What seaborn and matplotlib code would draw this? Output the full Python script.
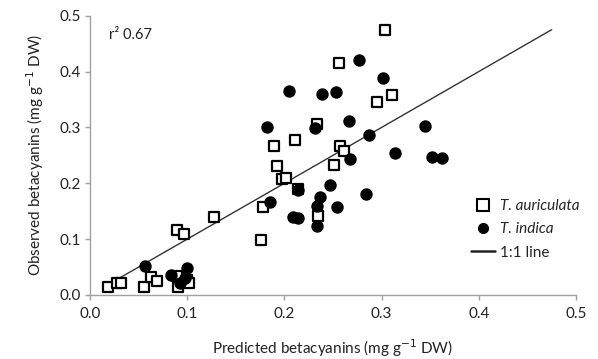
import matplotlib
matplotlib.use("Agg")
import matplotlib.pyplot as plt
import seaborn as sns
import pandas as pd
from matplotlib.lines import Line2D

# T. auriculata (open squares)
aur_pred = [0.019, 0.028, 0.032, 0.056, 0.063, 0.069, 0.089, 0.091, 0.100, 0.102,
            0.089, 0.097, 0.128, 0.176, 0.178, 0.189, 0.192, 0.198, 0.202, 0.211,
            0.214, 0.234, 0.235, 0.251, 0.256, 0.257, 0.261, 0.295, 0.304, 0.311]
aur_obs = [0.015, 0.021, 0.022, 0.015, 0.033, 0.025, 0.034, 0.015, 0.027, 0.022,
           0.116, 0.109, 0.139, 0.098, 0.157, 0.267, 0.231, 0.207, 0.210, 0.277,
           0.189, 0.307, 0.141, 0.233, 0.416, 0.267, 0.258, 0.345, 0.475, 0.358]

# T. indica (filled circles)
ind_pred = [0.057, 0.083, 0.093, 0.100, 0.098, 0.182, 0.185, 0.205, 0.209, 0.214,
            0.214, 0.231, 0.234, 0.234, 0.237, 0.239, 0.247, 0.253, 0.254, 0.266,
            0.267, 0.277, 0.284, 0.287, 0.301, 0.314, 0.345, 0.352, 0.362]
ind_obs = [0.052, 0.036, 0.021, 0.048, 0.030, 0.301, 0.167, 0.366, 0.140, 0.138,
           0.188, 0.299, 0.123, 0.159, 0.176, 0.360, 0.197, 0.364, 0.157, 0.311,
           0.244, 0.420, 0.180, 0.287, 0.389, 0.255, 0.303, 0.247, 0.246]

# 1:1 line
line_x = [0.013, 0.475]
line_y = [0.013, 0.475]

ticks = [0.0, 0.1, 0.2, 0.3, 0.4, 0.5]
tick_labels = ["0.0", "0.1", "0.2", "0.3", "0.4", "0.5"]

sns.set_style("white")
plt.rcParams['font.family'] = ['Lato', 'DejaVu Sans']

fig = plt.figure(figsize=(5.98, 3.59), dpi=100)
ax = fig.add_axes([90/598, 1 - 295/359, (576-90)/598, (295-15.7)/359])

df_a = pd.DataFrame({"x": aur_pred, "y": aur_obs})
df_i = pd.DataFrame({"x": ind_pred, "y": ind_obs})
df_l = pd.DataFrame({"x": line_x, "y": line_y})

sns.lineplot(data=df_l, x="x", y="y", ax=ax, color="#333333", linewidth=1.0, zorder=1)
sns.scatterplot(data=df_a, x="x", y="y", ax=ax, marker="s", s=62,
                facecolor="white", edgecolor="black", linewidth=1.6, zorder=2)
sns.scatterplot(data=df_i, x="x", y="y", ax=ax, marker="o", s=80,
                color="black", edgecolor="black", linewidth=0, zorder=3)

ax.set_xlim(0, 0.5)
ax.set_ylim(0, 0.5)
ax.set_xticks(ticks)
ax.set_xticklabels(tick_labels)
ax.set_yticks(ticks)
ax.set_yticklabels(tick_labels)
for s in ["top", "right"]:
    ax.spines[s].set_visible(False)
for s in ["left", "bottom"]:
    ax.spines[s].set_color("#a0a0a0")
    ax.spines[s].set_linewidth(1.0)
ax.tick_params(axis="both", direction="out", length=3.5, width=1.0, color="#a0a0a0",
               labelsize=11, labelcolor="#222222", pad=3, bottom=True, left=True)
ax.tick_params(axis="x", pad=5)

ax.set_xlabel("Predicted betacyanins (mg g$^{-1}$ DW)", fontsize=11, color="#222222", labelpad=12)
ax.set_ylabel("Observed betacyanins (mg g$^{-1}$ DW)", fontsize=11, color="#222222", labelpad=10)

ax.text(0.02, 0.465, "r\u00b2 0.67", fontsize=10.5, color="#222222", va="center", ha="left")

handles = [
    Line2D([], [], marker="s", linestyle="none", markersize=8, markerfacecolor="white",
           markeredgecolor="black", markeredgewidth=1.5),
    Line2D([], [], marker="o", linestyle="none", markersize=7, markerfacecolor="black",
           markeredgecolor="black"),
    Line2D([], [], color="#222222", linewidth=1.8),
]
labels = ["T. auriculata", "T. indica", "1:1 line"]
leg = ax.legend(handles, labels, loc="center left", bbox_to_anchor=(0.755, 0.235),
                frameon=False, fontsize=11, handlelength=1.6, handletextpad=0.3,
                labelspacing=0.6)
for t in leg.get_texts()[:2]:
    t.set_style("italic")

fig.savefig("out.png", dpi=100)
